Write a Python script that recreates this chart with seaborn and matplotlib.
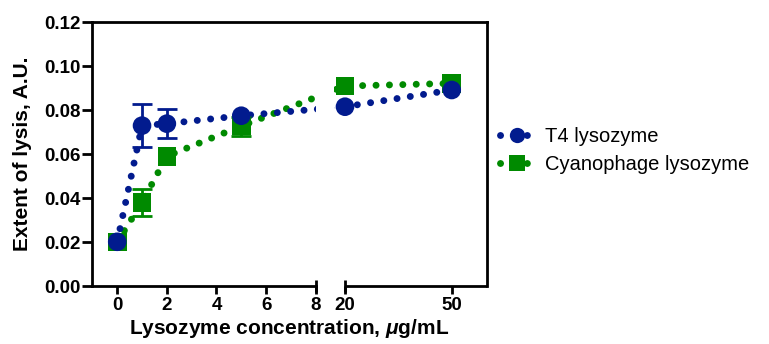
import matplotlib
matplotlib.use('Agg')
import matplotlib.pyplot as plt
from matplotlib.lines import Line2D
import numpy as np
import pandas as pd
import seaborn as sns

# Data
conc = [0, 1, 2, 5, 20, 50]
t4_extent = [0.0201, 0.0729, 0.0738, 0.0774, 0.0815, 0.0891]
t4_err = [0, 0.0099, 0.0066, 0, 0, 0]
cyano_extent = [0.0200, 0.0380, 0.0590, 0.0727, 0.0909, 0.0921]
cyano_err = [0, 0.0062, 0, 0.0043, 0, 0]
x_ticks = [0, 2, 4, 6, 8, 20, 50]
y_ticks = [0.00, 0.02, 0.04, 0.06, 0.08, 0.10, 0.12]

T4 = 'T4 lysozyme'
CYANO = 'Cyanophage lysozyme'
BLUE = '#021B8E'
GREEN = '#008A00'

# cyanophage rows first so the T4 markers sit on top
df = pd.DataFrame({
  'conc': conc + conc,
  'extent': cyano_extent + t4_extent,
  'err': cyano_err + t4_err,
  'enzyme': [CYANO] * len(conc) + [T4] * len(conc),
})

sns.set_theme(style='ticks')
plt.rcParams['font.family'] = ['Liberation Sans', 'DejaVu Sans']
plt.rcParams['mathtext.fontset'] = 'custom'
plt.rcParams['mathtext.it'] = 'Liberation Sans:italic:bold'
plt.rcParams['mathtext.rm'] = 'Liberation Sans:bold'
plt.rcParams['text.color'] = 'black'
plt.rcParams['axes.labelcolor'] = 'black'


# broken x axis: 0-8 linear, then 20-60 compressed
def fwd(x):
  x = np.asarray(x, dtype=float)
  return np.where(x <= 8, x,
                  np.where(x <= 20, 8 + (x - 8) * 1.18 / 12,
                           9.18 + (x - 20) * 0.1434))


def inv(u):
  u = np.asarray(u, dtype=float)
  return np.where(u <= 8, u,
                  np.where(u <= 9.18, 8 + (u - 8) * 12 / 1.18,
                           20 + (u - 9.18) / 0.1434))


fig = plt.figure(figsize=(7.69, 3.44), dpi=100)
ax = fig.add_axes([0.1192, 0.1686, 0.5145, 0.7674])

dots = (0, (0.01, 1.92))
palette = {T4: BLUE, CYANO: GREEN}

sns.lineplot(data=df, x='conc', y='extent', hue='enzyme', palette=palette,
             hue_order=[CYANO, T4], lw=5, linestyle=dots,
             dash_capstyle='round', legend=False, ax=ax, zorder=2)

for name, color in [(CYANO, GREEN), (T4, BLUE)]:
  sub = df[(df['enzyme'] == name) & (df['err'] > 0)]
  ax.errorbar(sub['conc'], sub['extent'], yerr=sub['err'], fmt='none',
              ecolor=color, elinewidth=2, capsize=7.5, capthick=2,
              zorder=2.8)

sns.scatterplot(data=df, x='conc', y='extent', hue='enzyme', palette=palette,
                style='enzyme', markers={T4: 'o', CYANO: 's'}, s=180,
                linewidth=0, legend=False, ax=ax, zorder=3)

ax.set_xscale('function', functions=(fwd, inv))
ax.set_xlim(-1.03, 60)
ax.set_ylim(0, 0.12)

# hide the lines inside the axis break
ax.axvspan(8.03, 15.5, color='white', lw=0, zorder=2.2)

ax.set_xticks(x_ticks, labels=[str(t) for t in x_ticks])
ax.set_yticks(y_ticks, labels=[f'{v:.2f}' for v in y_ticks])
ax.tick_params(axis='both', width=2, labelsize=13.5, color='black',
               labelcolor='black')
ax.tick_params(axis='y', length=7, pad=1)
ax.tick_params(axis='x', length=6, pad=2)
for lab in ax.get_xticklabels() + ax.get_yticklabels():
  lab.set_fontweight('bold')

for side in ['left', 'right', 'top', 'bottom']:
  ax.spines[side].set_linewidth(2)
  ax.spines[side].set_color('black')
ax.spines['bottom'].set_bounds(-1.03, 8)
ax.plot([20, 60], [0, 0], color='black', lw=2, solid_capstyle='butt',
        clip_on=False, zorder=2.5)
ax.plot([8, 20], [0, 0], ls='none', marker='|', ms=8.5, mew=2,
        color='black', clip_on=False, zorder=3)

ax.set_xlabel(r'Lysozyme concentration, $\mathit{\mu}$g/mL',
              fontsize=15, fontweight='bold', labelpad=2)
ax.set_ylabel('Extent of lysis, A.U.', fontsize=15, fontweight='bold',
              labelpad=9)

handles = [
  Line2D([0], [0], color=BLUE, lw=5, linestyle=dots, dash_capstyle='round',
         marker='o', markersize=11, markeredgewidth=0),
  Line2D([0], [0], color=GREEN, lw=5, linestyle=dots, dash_capstyle='round',
         marker='s', markersize=11, markeredgewidth=0),
]
fig.legend(handles, [T4, CYANO], loc='upper left',
           bbox_to_anchor=(500 / 769, 1 - 127 / 344), frameon=False,
           fontsize=14.5, handlelength=1.65, handletextpad=0.6,
           labelspacing=0.45, borderpad=0, borderaxespad=0,
           labelcolor='black')

fig.savefig('out.png', dpi=100)
